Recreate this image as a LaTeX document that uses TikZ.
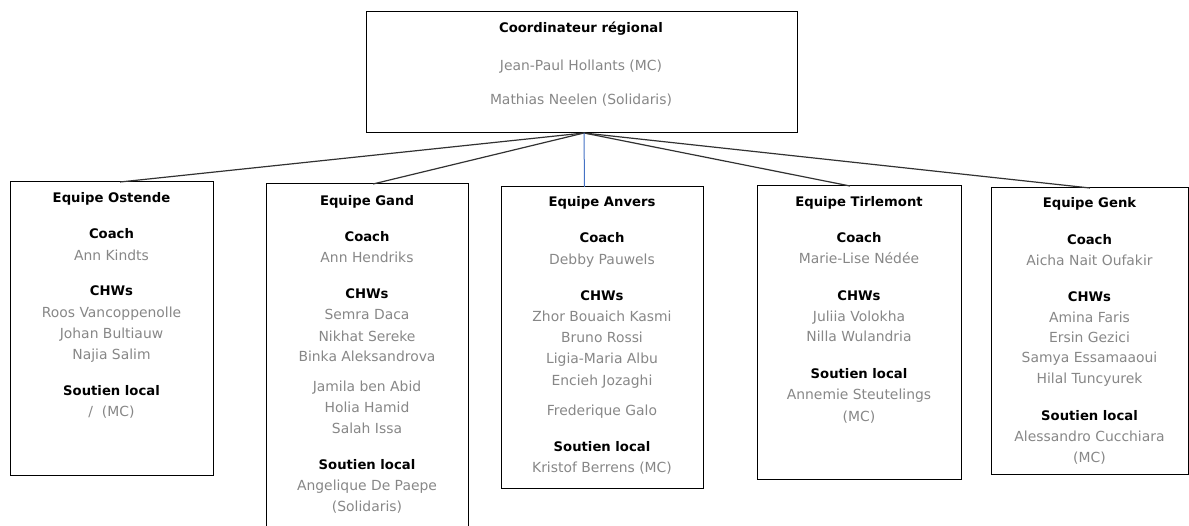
\documentclass[tikz,border=0pt]{standalone}
\usepackage{fontspec}
\setmainfont{DejaVu Sans}
\definecolor{namegray}{RGB}{135,135,135}
\definecolor{linkblue}{RGB}{68,114,196}
\definecolor{linkgray}{RGB}{50,50,50}
\begin{document}
\begin{tikzpicture}[x=1pt,y=-1pt,
  box/.style={draw=black,line width=1pt,inner sep=0pt,outer sep=0pt},
  head/.style={anchor=base,yshift=-4.8pt,inner sep=0pt,font=\fontsize{13.2}{15}\selectfont\bfseries,text=black},
  nm/.style={anchor=base,yshift=-4.8pt,inner sep=0pt,font=\fontsize{13.9}{15}\selectfont,text=namegray},
  link/.style={draw=linkgray,line width=1.2pt}]
\useasboundingbox (0,0) rectangle (1189,526);

% boxes
\node[box,minimum width=431pt,minimum height=121pt] (top) at (581.5,72.5) {};
\node[box,minimum width=203pt,minimum height=293pt] (ost) at (111.5,328.5) {};
\node[box,minimum width=202pt,minimum height=360pt] (gand) at (367,364) {};
\node[box,minimum width=202pt,minimum height=301pt] (anv) at (602,337.5) {};
\node[box,minimum width=204pt,minimum height=293pt] (tir) at (859,332.5) {};
\node[box,minimum width=197pt,minimum height=286pt] (genk) at (1089.5,331) {};

% connectors
\draw[link] ([xshift=2.5pt]top.south) -- ([xshift=8.5pt]ost.north);
\draw[link] ([xshift=2.5pt]top.south) -- ([xshift=6pt]gand.north);
\draw[link] ([xshift=2.5pt]top.south) -- ([xshift=-9pt]tir.north);
\draw[link] ([xshift=2.5pt]top.south) -- ([xshift=0.5pt]genk.north);
\draw[linkblue,line width=1pt] ([xshift=2.5pt]top.south) -- ([xshift=-17.5pt]anv.north);

% top box
\node[head] (tt1) at (581,28) {Coordinateur régional};
\node[nm] (tt2) at (581,66) {Jean-Paul Hollants (MC)};
\node[nm] (tt3) at (581,100) {Mathias Neelen (Solidaris)};

% Ostende
\node[head] (o1) at (111.5,198) {Equipe Ostende};
\node[head] (o2) at (111.5,234) {Coach};
\node[nm] (o3) at (111.5,256) {Ann Kindts};
\node[head] (o4) at (111.5,291) {CHWs};
\node[nm] (o5) at (111.5,313) {Roos Vancoppenolle};
\node[nm] (o6) at (111.5,334) {Johan Bultiauw};
\node[nm] (o7) at (111.5,355) {Najia Salim};
\node[head] (o8) at (111.5,391) {Soutien local};
\node[nm] (o9) at (111.5,412) {/ \ (MC)};

% Gand
\node[head] (g1) at (367,201) {Equipe Gand};
\node[head] (g2) at (367,237) {Coach};
\node[nm] (g3) at (367,258) {Ann Hendriks};
\node[head] (g4) at (367,294) {CHWs};
\node[nm] (g5) at (367,315) {Semra Daca};
\node[nm] (g6) at (367,337) {Nikhat Sereke};
\node[nm] (g7) at (367,357) {Binka Aleksandrova};
\node[nm] (g8) at (367,387) {Jamila ben Abid};
\node[nm] (g9) at (367,408) {Holia Hamid};
\node[nm] (g10) at (367,429) {Salah Issa};
\node[head] (g11) at (367,465) {Soutien local};
\node[nm] (g12) at (367,486) {Angelique De Paepe};
\node[nm] (g13) at (367,507) {(Solidaris)};

% Anvers
\node[head] (a1) at (602,202) {Equipe Anvers};
\node[head] (a2) at (602,238) {Coach};
\node[nm] (a3) at (602,260) {Debby Pauwels};
\node[head] (a4) at (602,296) {CHWs};
\node[nm] (a5) at (602,317) {Zhor Bouaich Kasmi};
\node[nm] (a6) at (602,338) {Bruno Rossi};
\node[nm] (a7) at (602,359) {Ligia-Maria Albu};
\node[nm] (a8) at (602,381) {Encieh Jozaghi};
\node[nm] (a9) at (602,411) {Frederique Galo};
\node[head] (a10) at (602,447) {Soutien local};
\node[nm] (a11) at (602,468) {Kristof Berrens (MC)};

% Tirlemont
\node[head] (t1) at (859,202) {Equipe Tirlemont};
\node[head] (t2) at (859,238) {Coach};
\node[nm] (t3) at (859,259) {Marie-Lise Nédée};
\node[head] (t4) at (859,296) {CHWs};
\node[nm] (t5) at (859,317) {Juliia Volokha};
\node[nm] (t6) at (859,337) {Nilla Wulandria};
\node[head] (t7) at (859,374) {Soutien local};
\node[nm] (t8) at (859,395) {Annemie Steutelings};
\node[nm] (t9) at (859,417) {(MC)};

% Genk
\node[head] (k1) at (1089.5,203) {Equipe Genk};
\node[head] (k2) at (1089.5,240) {Coach};
\node[nm] (k3) at (1089.5,261) {Aicha Nait Oufakir};
\node[head] (k4) at (1089.5,297) {CHWs};
\node[nm] (k5) at (1089.5,318) {Amina Faris};
\node[nm] (k6) at (1089.5,338) {Ersin Gezici};
\node[nm] (k7) at (1089.5,358) {Samya Essamaaoui};
\node[nm] (k8) at (1089.5,379) {Hilal Tuncyurek};
\node[head] (k9) at (1089.5,416) {Soutien local};
\node[nm] (k10) at (1089.5,437) {Alessandro Cucchiara};
\node[nm] (k11) at (1089.5,458) {(MC)};
\end{tikzpicture}
\end{document}
